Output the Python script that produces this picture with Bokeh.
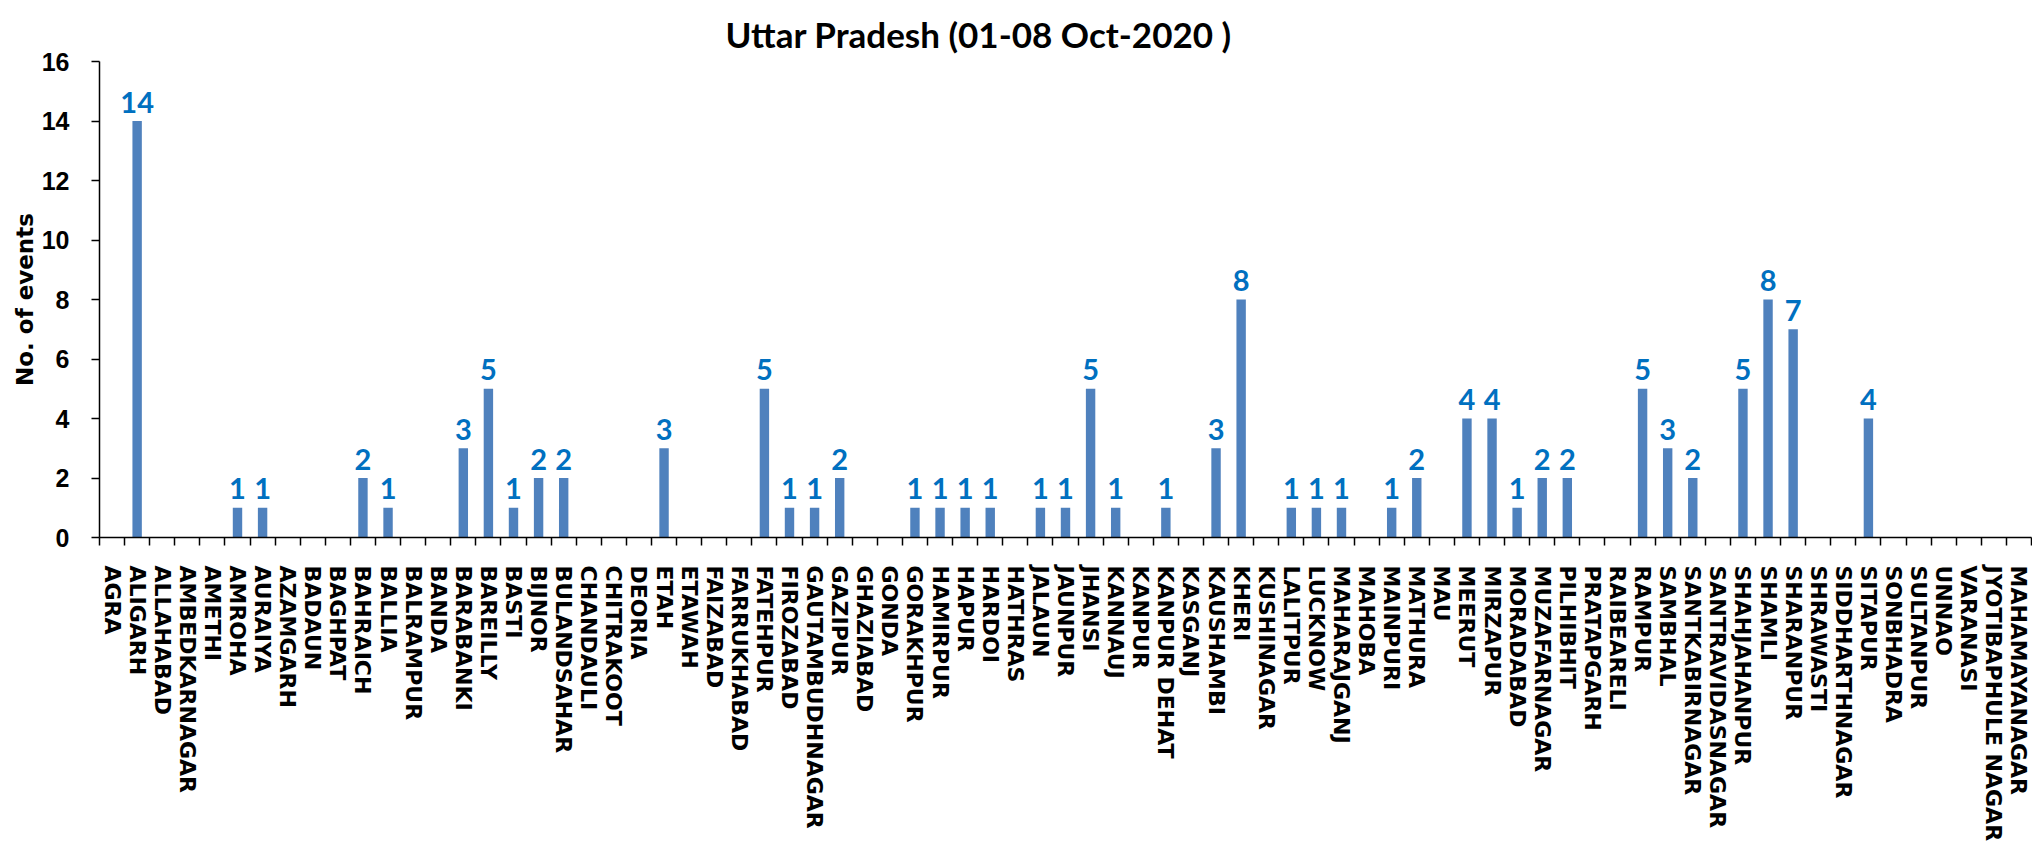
import numpy as np
from bokeh.plotting import figure
from bokeh.models import Range1d, FixedTicker, ColumnDataSource, Title
from bokeh.embed import file_html
from bokeh.resources import INLINE
from bokeh.core.properties import value

districts = [
    "AGRA", "ALIGARH", "ALLAHABAD", "AMBEDKARNAGAR", "AMETHI", "AMROHA", "AURAIYA",
    "AZAMGARH", "BADAUN", "BAGHPAT", "BAHRAICH", "BALLIA", "BALRAMPUR", "BANDA",
    "BARABANKI", "BAREILLY", "BASTI", "BIJNOR", "BULANDSAHAR", "CHANDAULI",
    "CHITRAKOOT", "DEORIA", "ETAH", "ETAWAH", "FAIZABAD", "FARRUKHABAD", "FATEHPUR",
    "FIROZABAD", "GAUTAMBUDHNAGAR", "GAZIPUR", "GHAZIABAD", "GONDA", "GORAKHPUR",
    "HAMIRPUR", "HAPUR", "HARDOI", "HATHRAS", "JALAUN", "JAUNPUR", "JHANSI", "KANNAUJ",
    "KANPUR", "KANPUR DEHAT", "KASGANJ", "KAUSHAMBI", "KHERI", "KUSHINAGAR", "LALITPUR",
    "LUCKNOW", "MAHARAJGANJ", "MAHOBA", "MAINPURI", "MATHURA", "MAU", "MEERUT",
    "MIRZAPUR", "MORADABAD", "MUZAFARNAGAR", "PILHIBHIT", "PRATAPGARH", "RAIBEARELI",
    "RAMPUR", "SAMBHAL", "SANTKABIRNAGAR", "SANTRAVIDASNAGAR", "SHAHJAHANPUR", "SHAMLI",
    "SHARANPUR", "SHRAWASTI", "SIDDHARTHNAGAR", "SITAPUR", "SONBHADRA", "SULTANPUR",
    "UNNAO", "VARANASI", "JYOTIBAPHULE NAGAR", "MAHAMAYANAGAR",
]
events = [
    0, 14, 0, 0, 0, 1, 1,
    0, 0, 0, 2, 1, 0, 0,
    3, 5, 1, 2, 2, 0,
    0, 0, 3, 0, 0, 0, 5,
    1, 1, 2, 0, 0, 1,
    1, 1, 1, 0, 1, 1, 5, 1,
    0, 1, 0, 3, 8, 0, 1,
    1, 1, 0, 1, 2, 0, 4,
    4, 1, 2, 2, 0, 0,
    5, 3, 2, 0, 5, 8,
    7, 0, 0, 4, 0, 0,
    0, 0, 0, 0,
]
y_ticks = [0, 2, 4, 6, 8, 10, 12, 14, 16]
title_text = "Uttar Pradesh  (01-08 Oct-2020 )"
y_title = "No. of events"

n = len(districts)
xc = [i + 0.5 for i in range(n)]
bars = ColumnDataSource(dict(x=xc, top=events))
nz = [i for i, v in enumerate(events) if v > 0]
labels = ColumnDataSource(dict(x=[xc[i] for i in nz], y=[events[i] for i in nz],
                               t=[str(events[i]) for i in nz]))

p = figure(width=2032, height=856,
           x_range=Range1d(0, n), y_range=Range1d(0, y_ticks[-1]),
           output_backend="svg", toolbar_location=None,
           min_border_left=99, min_border_right=1, min_border_top=61, min_border_bottom=319)
p.outline_line_color = None
p.xgrid.visible = False
p.ygrid.visible = False
p.background_fill_color = "white"

p.title = Title(text=title_text, align="left", offset=626, standoff=14,
                text_font="Lato", text_font_style="bold", text_font_size="35px",
                text_color="black")

p.vbar(x="x", top="top", width=0.375, bottom=0, source=bars,
       fill_color="#4F81BD", line_color=None)

p.text(x="x", y="y", text="t", source=labels,
       text_font=value("Lato"), text_font_style="bold", text_font_size="29px",
       text_color="#0070C0", text_align="center", text_baseline="alphabetic",
       y_offset=-19)

# y axis
ya = p.yaxis[0]
ya.ticker = FixedTicker(ticks=y_ticks)
ya.axis_line_color = "black"
ya.axis_line_width = 1.5
ya.major_tick_line_color = "black"
ya.major_tick_line_width = 1.5
ya.major_tick_out = 8
ya.major_tick_in = 0
ya.minor_tick_line_color = None
ya.major_label_text_font = "Liberation Sans"
ya.major_label_text_font_style = "bold"
ya.major_label_text_font_size = "25px"
ya.major_label_text_color = "black"
ya.major_label_standoff = 22
ya.axis_label = y_title
ya.axis_label_text_font = "DejaVu Sans"
ya.axis_label_text_font_style = "bold"
ya.axis_label_text_font_size = "23px"
ya.axis_label_text_color = "black"
ya.axis_label_standoff = 1

# x axis: names at category centres, ticks (minor) on category boundaries
xa = p.xaxis[0]
xa.ticker = FixedTicker(ticks=xc, minor_ticks=list(range(n + 1)))
xa.major_label_overrides = {x: d for x, d in zip(xc, districts)}
xa.major_tick_line_color = None
xa.major_tick_out = 0
xa.major_tick_in = 0
xa.minor_tick_line_color = "black"
xa.minor_tick_line_width = 1.5
xa.minor_tick_out = 8
xa.minor_tick_in = 0
xa.axis_line_color = "black"
xa.axis_line_width = 1.5
xa.major_label_orientation = "vertical"
xa.major_label_text_font = "DejaVu Sans"
xa.major_label_text_font_style = "bold"
xa.major_label_text_font_size = "22px"
xa.major_label_text_color = "black"
xa.major_label_standoff = 20

open("out.html", "w").write(file_html(p, INLINE))
